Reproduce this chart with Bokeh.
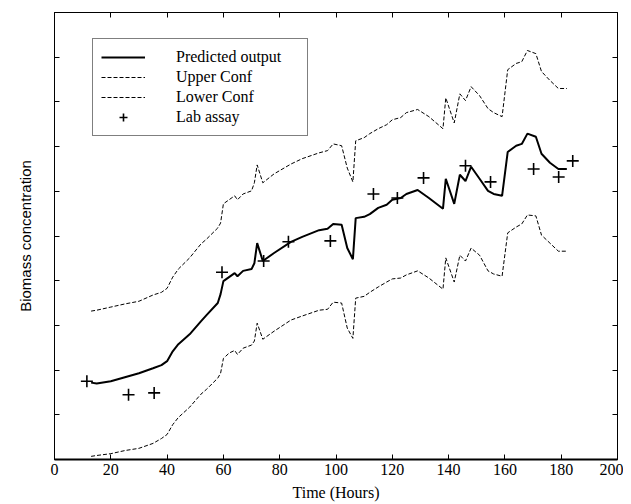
from bokeh.plotting import figure
from bokeh.models import Range1d, LinearAxis, FixedTicker, Legend, LegendItem
from bokeh.embed import file_html
from bokeh.resources import INLINE

# ---- data ----
time_h = [13, 15, 20, 25, 30, 35, 38, 40, 42, 44, 48, 52, 54, 58, 59, 60, 62, 64, 65, 67,
          70, 71, 72, 74, 78, 84, 88, 94, 97, 99, 102, 104, 106, 107, 110, 112, 115, 118,
          120, 123, 125, 129, 133, 138, 139, 142, 144, 146, 148, 151, 154, 156, 159, 161,
          164, 166, 168, 171, 173, 176, 179, 182]

predicted = [1.72, 1.70, 1.75, 1.84, 1.93, 2.04, 2.11, 2.20, 2.42, 2.58, 2.80, 3.09, 3.23,
             3.50, 3.70, 3.99, 4.08, 4.17, 4.10, 4.22, 4.26, 4.39, 4.84, 4.44, 4.62, 4.87,
             4.98, 5.13, 5.16, 5.27, 5.25, 4.73, 4.48, 5.40, 5.43, 5.49, 5.63, 5.70, 5.81,
             5.85, 5.94, 6.03, 5.85, 5.61, 6.28, 5.72, 6.37, 6.23, 6.55, 6.28, 6.01, 5.94,
             5.90, 6.88, 7.02, 7.06, 7.29, 7.22, 6.84, 6.64, 6.50, 6.50]

upper_conf = [3.32, 3.34, 3.41, 3.48, 3.54, 3.68, 3.74, 3.83, 4.08, 4.26, 4.51, 4.82, 4.93,
              5.18, 5.29, 5.72, 5.81, 5.90, 5.81, 5.94, 6.01, 6.19, 6.59, 6.19, 6.39, 6.61,
              6.73, 6.86, 6.91, 7.06, 7.02, 6.52, 6.21, 7.13, 7.20, 7.29, 7.40, 7.49, 7.60,
              7.65, 7.76, 7.83, 7.67, 7.40, 8.09, 7.53, 8.18, 8.03, 8.34, 8.14, 7.85, 7.76,
              7.67, 8.72, 8.86, 8.90, 9.15, 9.08, 8.68, 8.48, 8.30, 8.30]

lower_conf = [0.07, 0.09, 0.13, 0.20, 0.25, 0.36, 0.47, 0.56, 0.78, 0.94, 1.17, 1.46, 1.57,
              1.82, 1.93, 2.26, 2.38, 2.44, 2.35, 2.49, 2.56, 2.65, 3.05, 2.69, 2.87, 3.12,
              3.21, 3.34, 3.36, 3.52, 3.50, 2.94, 2.71, 3.61, 3.65, 3.74, 3.86, 3.97, 4.04,
              4.06, 4.13, 4.22, 4.06, 3.81, 4.51, 3.97, 4.57, 4.44, 4.73, 4.57, 4.22, 4.15,
              4.10, 5.07, 5.20, 5.27, 5.47, 5.45, 5.02, 4.84, 4.66, 4.66]

assay_time = [11.5, 26.3, 35.4, 59.5, 74.3, 83.1, 98.0, 113.3, 121.8, 131.1, 146.0, 154.9,
              170.2, 179.1, 184.1]
assay_value = [1.75, 1.45, 1.49, 4.19, 4.44, 4.87, 4.89, 5.94, 5.85, 6.30, 6.57, 6.21,
               6.50, 6.32, 6.68]

x_ticks = [0, 20, 40, 60, 80, 100, 120, 140, 160, 180, 200]
y_ticks = [0, 1, 2, 3, 4, 5, 6, 7, 8, 9, 10]

SERIF = "Liberation Serif"
SANS = "Liberation Sans"

p = figure(width=623, height=503, output_backend="svg", toolbar_location=None,
           x_range=Range1d(0, 200), y_range=Range1d(0, 10),
           min_border_left=54, min_border_right=6, min_border_top=12, min_border_bottom=44)

p.xgrid.visible = False
p.ygrid.visible = False
p.outline_line_color = "black"
p.outline_line_width = 1
p.background_fill_color = "white"
p.border_fill_color = "white"

r_pred = p.line(time_h, predicted, line_color="black", line_width=2)
r_up = p.line(time_h, upper_conf, line_color="black", line_width=1, line_dash="4 2")
r_lo = p.line(time_h, lower_conf, line_color="black", line_width=1, line_dash="4 2")
r_lab = p.scatter(assay_time, assay_value, marker="cross", size=12,
                  line_color="black", line_width=1.6)


def style(ax, ticks, show_labels):
    ax.ticker = FixedTicker(ticks=ticks)
    ax.major_tick_in = 5
    ax.major_tick_out = 0
    ax.minor_tick_line_color = None
    ax.major_tick_line_color = "black"
    ax.major_tick_line_width = 1
    ax.axis_line_color = "black"
    ax.axis_label_text_color = "black"
    if show_labels:
        ax.major_label_text_font = SERIF
        ax.major_label_text_font_size = "16px"
        ax.major_label_text_color = "black"
        ax.major_label_standoff = 4
    else:
        ax.major_label_text_font_size = "1px"
        ax.major_label_text_color = None
        ax.major_label_standoff = 0


xa = p.xaxis[0]
style(xa, x_ticks, True)
xa.axis_line_width = 2
xa.axis_label = "Time (Hours)"
xa.axis_label_text_font = SERIF
xa.axis_label_text_font_size = "16px"
xa.axis_label_text_font_style = "normal"
xa.axis_label_standoff = 6

ya = p.yaxis[0]
style(ya, y_ticks, False)
ya.axis_label = "Biomass concentration"
ya.axis_label_text_font = SANS
ya.axis_label_text_font_size = "15px"
ya.axis_label_text_font_style = "normal"
ya.axis_label_standoff = 21

top_ax = LinearAxis()
style(top_ax, x_ticks, False)
top_ax.axis_line_color = None
p.add_layout(top_ax, "above")

right_ax = LinearAxis()
style(right_ax, y_ticks, False)
right_ax.axis_line_color = None
p.add_layout(right_ax, "right")

legend = Legend(items=[
    LegendItem(label="Predicted output", renderers=[r_pred]),
    LegendItem(label="Upper Conf", renderers=[r_up]),
    LegendItem(label="Lower Conf", renderers=[r_lo]),
    LegendItem(label="Lab assay", renderers=[r_lab]),
], location=(38, 323))
legend.border_line_color = "black"
legend.border_line_width = 1
legend.background_fill_color = "white"
legend.background_fill_alpha = 1
legend.label_text_font = SERIF
legend.label_text_font_size = "16px"
legend.label_text_color = "black"
legend.glyph_width = 44
legend.glyph_height = 20
legend.label_height = 20
legend.label_width = 123
legend.label_standoff = 31
legend.spacing = 0
legend.padding = 8
legend.margin = 0
p.add_layout(legend)

open("out.html", "w").write(file_html(p, INLINE))
